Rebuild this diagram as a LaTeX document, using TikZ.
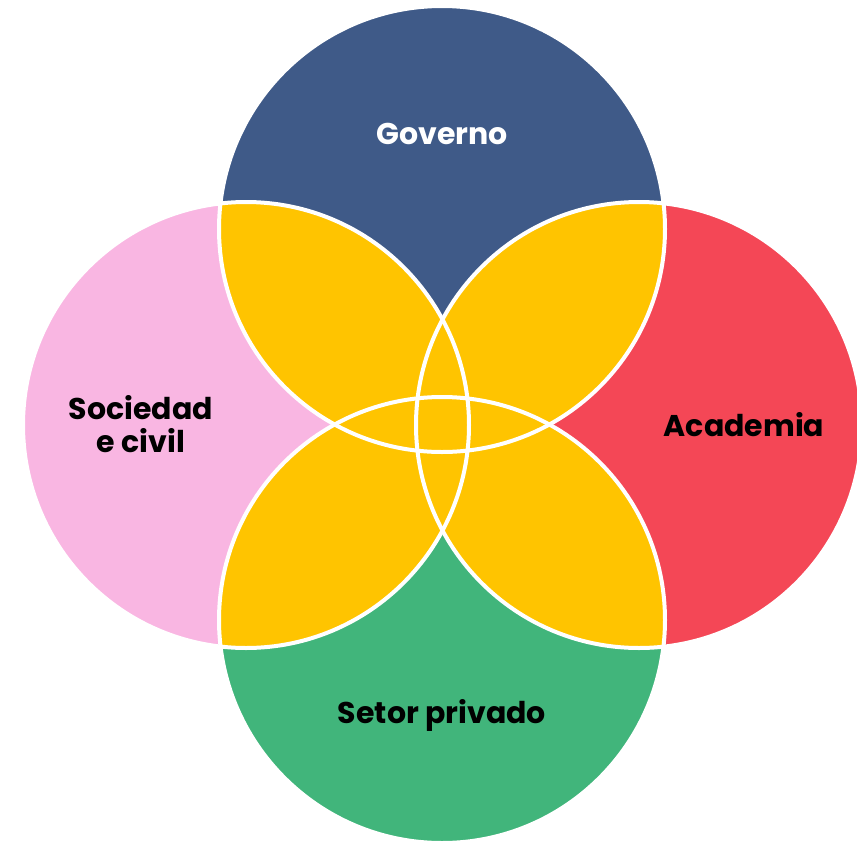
\documentclass[tikz,border=0pt]{standalone}
\usepackage{fontspec}
\setmainfont{Poppins}[UprightFont=* Bold, BoldFont=* Bold]
\definecolor{govblue}{HTML}{3F5A88}
\definecolor{socpink}{HTML}{F9B6E2}
\definecolor{acared}{HTML}{F44756}
\definecolor{setgreen}{HTML}{41B57B}
\definecolor{lensyellow}{HTML}{FFC400}
\begin{document}
\begin{tikzpicture}[x=1pt,y=-1pt,
  lbl/.style={font=\fontsize{30}{33}\selectfont\bfseries, align=center, inner sep=0pt},
  rim/.style={draw=white, line width=4pt}]
\useasboundingbox[fill=white] (0,0) rectangle (857,841);
\def\R{223}
\coordinate (T) at (442,229);
\coordinate (B) at (442,620);
\coordinate (L) at (246,425);
\coordinate (Rt) at (639,425);
% circles
\fill[govblue] (T) circle (\R);
\fill[setgreen] (B) circle (\R);
\fill[socpink] (L) circle (\R);
\fill[acared] (Rt) circle (\R);
% lenses
\foreach \a/\b in {T/L,T/Rt,B/L,B/Rt,T/B,L/Rt}{
  \begin{scope}
    \clip (\a) circle (\R);
    \fill[lensyellow] (\b) circle (\R);
  \end{scope}
}
% white rims
\foreach \c in {T,B,L,Rt}{
  \draw[rim] (\c) circle (\R);
}
\node[lbl, text=white] (gov) at (442,134) {Governo};
\node[lbl, text=black] (soc) at (141,424) {Sociedad\\e civil};
\node[lbl, text=black] (aca) at (744,425) {Academia};
\node[lbl, text=black] (set) at (442,715) {Setor privado};
\end{tikzpicture}
\end{document}
